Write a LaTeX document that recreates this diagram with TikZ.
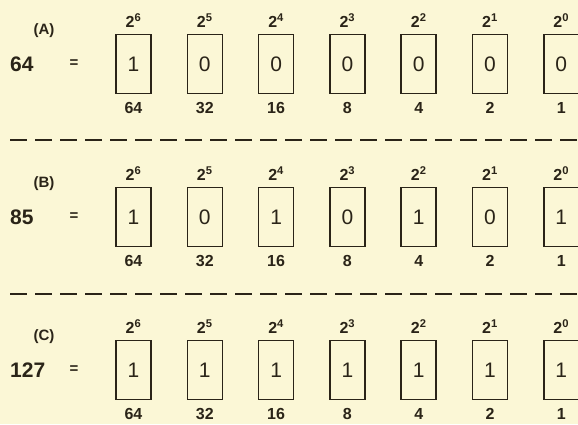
\documentclass[tikz,border=0pt]{standalone}
\usepackage{fontspec}
\setmainfont{Liberation Sans}
\usetikzlibrary{positioning}
\definecolor{paper}{HTML}{FBF7D6}
\definecolor{ink}{HTML}{2A2418}
\tikzset{
  bitbox/.style={
    draw=ink,
    line width=1.5pt,
    minimum width=35pt,
    minimum height=59pt,
    inner sep=0pt,
    text=ink,
    font=\fontsize{21}{21}\selectfont
  },
  powlbl/.style={text=ink,inner sep=1pt,font=\fontsize{16}{16}\selectfont\bfseries},
  weightlbl/.style={text=ink,inner sep=1pt,font=\fontsize{16}{16}\selectfont\bfseries},
  numlbl/.style={text=ink,inner sep=0pt,anchor=west,font=\fontsize{21}{21}\selectfont\bfseries},
  taglbl/.style={text=ink,inner sep=0pt,font=\fontsize{15}{15}\selectfont\bfseries},
  seprule/.style={draw=ink,line width=1.8pt,dash pattern=on 17pt off 8pt}
}

\begin{document}
\begin{tikzpicture}[x=1pt,y=-1pt]
  \fill[paper] (0,0) rectangle (578,424);
  \useasboundingbox (0,0) rectangle (578,424);
  % the three rows
  \foreach \row/\ypos/\num/\bits in {A/64/64/{1,0,0,0,0,0,0},
      B/217/85/{1,0,1,0,1,0,1},
      C/370/127/{1,1,1,1,1,1,1}} {
    \node[numlbl] (\row-num) at (10,\ypos) {\num};
    \node[taglbl] (\row-tag) at (44,\ypos-33) {(\row)};
    \node[taglbl] (\row-eq) at (74,\ypos) {=};
    \foreach \b [count=\i from 0] in \bits {
      \pgfmathtruncatemacro{\e}{6-\i}
      \pgfmathtruncatemacro{\w}{2^(6-\i)}
      \node[bitbox] (\row\i) at ({133.5+71.3*\i},\ypos) {\b};
      \node[powlbl,above=5pt of \row\i] (\row\i-pow) {2\textsuperscript{\e}};
      \node[weightlbl,below=7pt of \row\i] (\row\i-w) {\w};
    }
  }
  % separators
  \coordinate (s1l) at (10,140);
  \coordinate (s1r) at (578,140);
  \coordinate (s2l) at (10,294);
  \coordinate (s2r) at (578,294);
  \draw[seprule] (s1l) -- (s1r);
  \draw[seprule] (s2l) -- (s2r);
\end{tikzpicture}
\end{document}
